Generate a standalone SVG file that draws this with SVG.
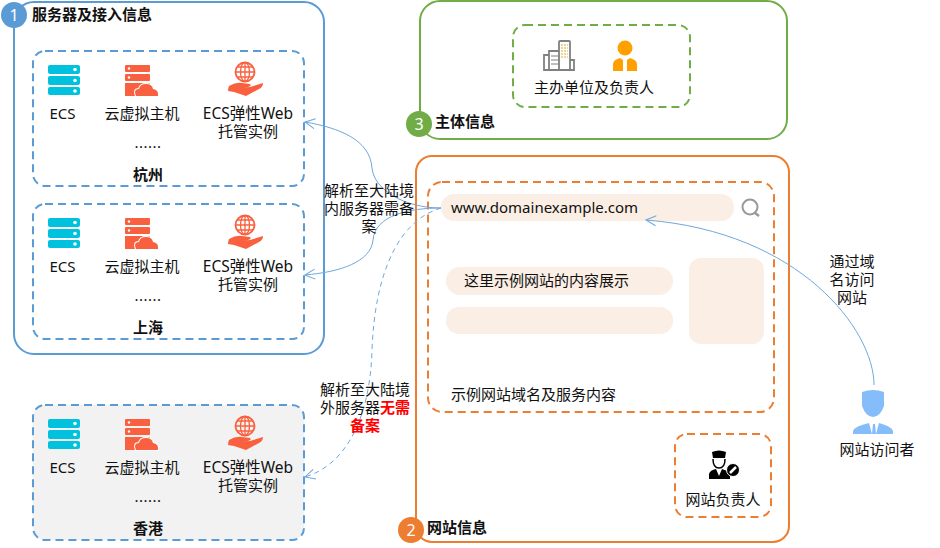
<svg xmlns="http://www.w3.org/2000/svg" xmlns:xlink="http://www.w3.org/1999/xlink" width="940" height="548" viewBox="0 0 940 548">
<style>
text{font-family:"Noto Sans","Noto Sans CJK SC","Liberation Sans",sans-serif;font-size:15px;fill:#111;text-anchor:middle}
.tight text{font-family:Roboto,"Noto Sans CJK SC",sans-serif}
.b{font-weight:700}
.l{text-anchor:start}
.n{fill:#fff;font-size:16px}
.red{fill:#f00;font-weight:700}
.outer{fill:none;stroke-width:2}
.dash{fill:none;stroke-width:2;stroke-dasharray:8 5}
.blue{stroke:#5b9bd5}.green{stroke:#70ad47}.orange{stroke:#ed7d31}
.pill{fill:#fbeee4}
.link{fill:none;stroke:#6fa8dc;stroke-width:1}
.d{stroke-dasharray:5 4}
</style>
<defs>
<marker id="arr" markerWidth="12" markerHeight="12" refX="11" refY="6" orient="auto" markerUnits="userSpaceOnUse"><path d="M1,1 L11,6 L1,11" fill="none" stroke="#6fa8dc" stroke-width="1"/></marker>
<g id="ecs">
<rect x="0" y="0" width="32" height="9" rx="2" fill="#00c1de"/><rect x="0" y="11" width="32" height="9" rx="2" fill="#00c1de"/><rect x="0" y="22" width="32" height="8" rx="2" fill="#00c1de"/>
<circle cx="27" cy="4.500" r="1.800" fill="#fff"/><circle cx="27" cy="15.500" r="1.800" fill="#fff"/><circle cx="27" cy="26" r="1.800" fill="#fff"/>
</g>
<g id="vm" fill="#f9603f">
<rect x="0" y="0" width="25" height="7" rx="1"/><rect x="0" y="9" width="25" height="7" rx="1"/>
<rect x="0" y="18" width="25" height="13"/>
<path d="M11,31Q8,24 14,24Q15,19 21,19Q27,19 28,24Q34,25 33,31Z" stroke="#fff" stroke-width="2" paint-order="stroke"/>
<circle cx="4" cy="3.500" r="1.200" fill="#fff"/><circle cx="4" cy="12.500" r="1.200" fill="#fff"/>
</g>
<g id="web">
<circle cx="17" cy="10" r="9.500" fill="none" stroke="#f9603f" stroke-width="1.800"/>
<ellipse cx="17" cy="10" rx="4.500" ry="9.500" fill="none" stroke="#f9603f" stroke-width="1.300"/>
<path d="M7.500,10H26.500M9,5H25M9,15H25M17,0.500V19.500" stroke="#f9603f" stroke-width="1.300" fill="none"/>
<path fill="#f9603f" d="M1,24Q8,20 14,21L22,22Q24,24 20,25L15,25.500L22,25L35,21Q35,25 31,27L18,34L6,30L0,29Q0,26 1,24Z"/>
</g>
<g id="set">
<use xlink:href="#ecs" x="15" y="14"/>
<use xlink:href="#vm" x="92" y="14"/>
<use xlink:href="#web" x="195" y="11"/>
<text x="29.500" y="68">ECS</text>
<text x="109" y="68">云虚拟主机</text>
<text x="215" y="68" style="font-size:15.500px">ECS弹性Web</text>
<text x="215" y="86">托管实例</text>
<text x="115" y="97" style="letter-spacing:0.500px">......</text>
</g>
</defs>

<g id="group-servers">
<rect class="outer blue" x="14" y="2" width="310" height="352" rx="20"/>
<circle cx="14" cy="15" r="13" fill="#5b9bd5"/>
<text x="14" y="20.500" class="n">1</text>
<text x="32" y="20" class="b l">服务器及接入信息</text>
</g>
<g id="node-hangzhou" transform="translate(33,51)">
<rect class="dash blue" width="271" height="135" rx="12"/>
<use xlink:href="#set"/>
<text x="115" y="129" class="b">杭州</text>
</g>
<g id="node-shanghai" transform="translate(33,204)">
<rect class="dash blue" width="271" height="135" rx="12"/>
<use xlink:href="#set"/>
<text x="115" y="129" class="b">上海</text>
</g>
<g id="node-hongkong" transform="translate(33,405)">
<rect class="dash blue" width="271" height="135" rx="12" style="fill:#f2f2f2"/>
<use xlink:href="#set"/>
<text x="115" y="129" class="b">香港</text>
</g>

<g id="group-subject">
<rect class="outer green" x="420" y="1" width="367" height="138" rx="20"/>
<circle cx="419" cy="124" r="13" fill="#70ad47"/>
<text x="419" y="129.500" class="n">3</text>
<text x="435" y="127" class="b l">主体信息</text>
</g>
<g id="node-sponsor">
<rect class="dash green" x="513" y="25" width="177" height="82" rx="12"/>
<g fill="none" stroke="#808080" stroke-width="1.800">
<rect x="559" y="41" width="11" height="29" rx="1"/>
<path d="M559,51H549V70H559M549,55H544V70H549M546,70H574V60H570"/>
<path d="M551,56H559M551,60H559M551,64H559" stroke-width="1.200"/>
</g>
<path d="M561,45H568M561,48H568M561,51H568M561,54H568M561,57H568" stroke="#e8c872" stroke-width="1.500" stroke-dasharray="2 1"/>
<circle cx="625" cy="48" r="7.500" fill="#ffa000"/>
<path d="M613,71V64Q613,60 620,58L623,60V71H627V60L630,58Q637,60 637,64V71Z" fill="#ffa000"/>
<text x="594" y="93">主办单位及负责人</text>
</g>

<g id="group-website">
<rect class="outer orange" x="416" y="156" width="373" height="386" rx="16"/>
<circle cx="411" cy="530" r="13" fill="#ed7d31"/>
<text x="411" y="535.500" class="n">2</text>
<text x="427" y="533" class="b l">网站信息</text>
</g>
<g id="node-content">
<rect class="dash orange" x="428" y="182" width="346" height="230" rx="14"/>
<rect class="pill" x="441" y="194" width="293" height="27" rx="13"/>
<text x="451" y="213" class="l">www.domainexample.com</text>
<circle cx="750" cy="207" r="7.500" fill="none" stroke="#999" stroke-width="2"/>
<path d="M755,213L759,216" stroke="#999" stroke-width="2.500"/>
<rect class="pill" x="446" y="267" width="227" height="28" rx="14"/>
<text x="464" y="286" class="l">这里示例网站的内容展示</text>
<rect class="pill" x="446" y="307" width="227" height="27" rx="13"/>
<rect class="pill" x="689" y="258" width="75" height="86" rx="12"/>
<text x="451" y="400" class="l">示例网站域名及服务内容</text>
</g>
<g id="node-owner">
<rect class="dash orange" x="675" y="434" width="96" height="83" rx="12"/>
<path d="M712,452Q719,449 726,452L725,458H713Z" fill="#000"/>
<path d="M713,459Q713,468 719,468Q725,468 725,459" fill="none" stroke="#000" stroke-width="1.500"/>
<path d="M709,479V474Q710,470 716,469L719,476L722,469L730,472V479Z" fill="#000"/>
<circle cx="733" cy="470" r="6.500" fill="#000" stroke="#fff" stroke-width="1"/>
<path d="M730,473L736,467" stroke="#fff" stroke-width="2.500"/>
<text x="723" y="505">网站负责人</text>
</g>

<g id="node-visitor">
<path d="M862,392Q873,388 884,392V406Q880,417 873,417Q866,417 862,406Z" fill="#85bdfb"/>
<path d="M853,434V431Q855,426 869,423L872,434ZM893,434V431Q891,426 879,423L876,434ZM873,424H875L876,434H872Z" fill="#85bdfb"/>
<text x="877" y="455">网站访问者</text>
</g>

<g id="connectors">
<path class="link" marker-end="url(#arr)" d="M441,208C405,208 374,190 372,168C370,140 340,128 305,122"/>
<path class="link" marker-end="url(#arr)" d="M441,208C410,208 375,215 373,240C371,262 340,272 305,275"/>
<path class="link d" marker-end="url(#arr)" d="M441,208C400,220 375,270 372,350C370,420 345,465 305,477"/>
<path class="link" marker-end="url(#arr)" d="M874,385C874,330 800,232 646,220"/>
</g>

<g id="labels" class="tight">
<text x="369" y="196">解析至大陆境</text>
<text x="369" y="214">内服务器需备</text>
<text x="369" y="232">案</text>
<text x="365" y="395">解析至大陆境</text>
<text x="365" y="413">外服务器<tspan class="red">无需</tspan></text>
<text x="365" y="431" class="red">备案</text>
<text x="852" y="267">通过域</text>
<text x="852" y="285">名访问</text>
<text x="852" y="303">网站</text>
</g>
</svg>
